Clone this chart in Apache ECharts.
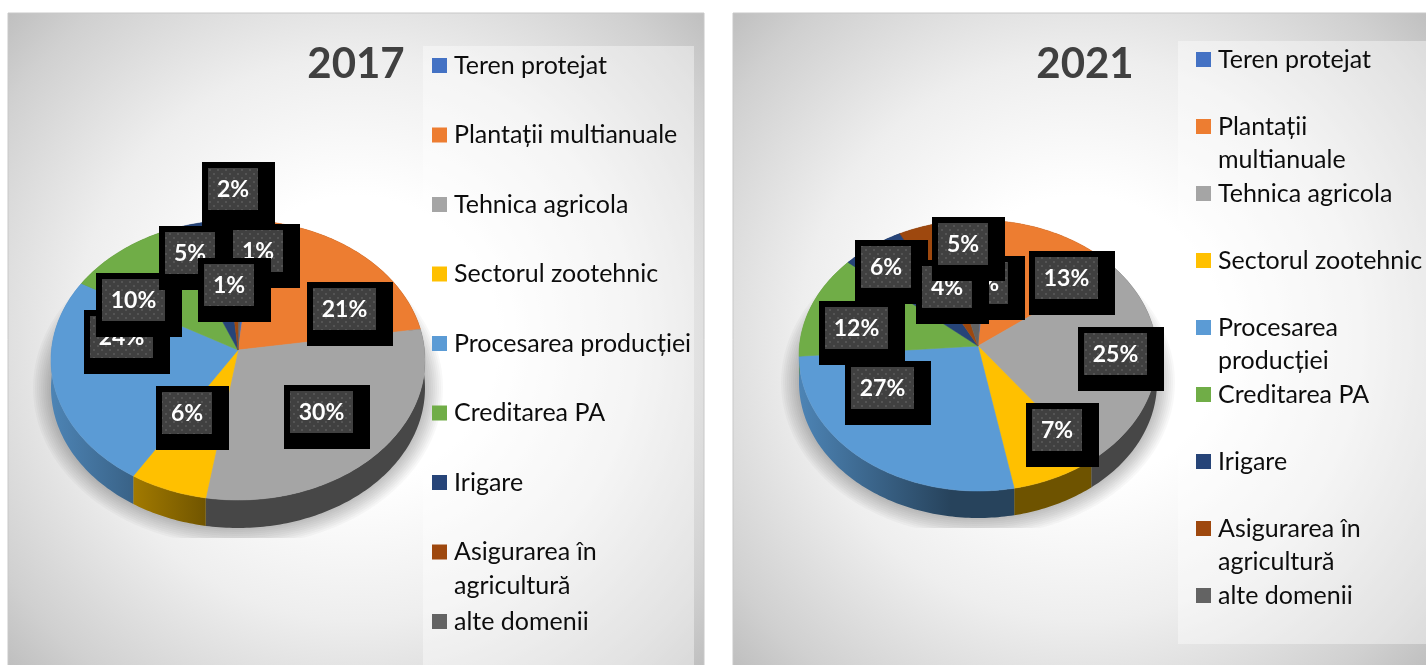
<!DOCTYPE html>
<html>
<head>
<meta charset="utf-8">
<style>html,body{margin:0;padding:0;background:#fff;overflow:hidden}#c{width:1426px;height:665px}</style>
<script src="https://cdn.jsdelivr.net/npm/echarts@6/dist/echarts.min.js"></script>
</head>
<body>
<div id="c"></div>
<script>
// ---- data ----
const categories = ['Teren protejat','Plantații multianuale','Tehnica agricola','Sectorul zootehnic','Procesarea producției','Creditarea PA','Irigare','Asigurarea în agricultură','alte domenii'];
const values2017 = [0.9,20.5,30.4,6.4,24.4,10.4,4.6,1.6,0.6];
const values2021 = [0.7,13.0,25.4,7.4,27.4,12.4,6.0,3.8,4.6];
const legendLines2017 = [['Teren protejat'],['Plantații multianuale'],['Tehnica agricola'],['Sectorul zootehnic'],['Procesarea producției'],['Creditarea PA'],['Irigare'],['Asigurarea în','agricultură'],['alte domenii']];
const legendLines2021 = [['Teren protejat'],['Plantații','multianuale'],['Tehnica agricola'],['Sectorul zootehnic'],['Procesarea','producției'],['Creditarea PA'],['Irigare'],['Asigurarea în','agricultură'],['alte domenii']];
const colors = ['#4472C4','#ED7D31','#A5A5A5','#FFC000','#5B9BD5','#70AD47','#264478','#9E480E','#636363'];

// ---- layout (separate from the data) ----
const panels = [
  {title:'2017', values:values2017, legend:legendLines2017,
   box:[8,13,696,680], bgCentre:[356,339], legendBox:[423,46,271,619],
   cx:238, cy:360, rx:187, ry:140, apexY:350, depth:28, titleX:356,
   markerX:432, textX:454, legendY:65.5, legendStep:69.5,
   labelAt:[[227,224],[307,282],[284,385],[156,386],[84,310],[96,273],[159,226],[202,162],[198,258]]},
  {title:'2021', values:values2021, legend:legendLines2021,
   box:[733,13,720,680], bgCentre:[1081,339], legendBox:[1178,41,248,603],
   cx:978, cy:355.5, rx:179, ry:135.5, apexY:346, depth:27, titleX:1085,
   markerX:1196, textX:1218, legendY:59.5, legendStep:67,
   labelAt:[[952,256],[1029,251],[1078,327],[1026,403],[845,361],[819,301],[855,240],[916,260],[932,217]]}
];
const FONT = 'Lato, "Open Sans", sans-serif';
const VIEW_WARP = 5.5; // degrees: the tilted view stretches the far left of the disc
const haloSteps = [18,16,14,12,10,8,6,4,2];

function shade(hex,f){
  const n=parseInt(hex.slice(1),16);
  const c=[(n>>16)&255,(n>>8)&255,n&255].map(v=>Math.round(v*f));
  return 'rgb('+c.join(',')+')';
}
function spans(values){
  const total=values.reduce((a,b)=>a+b,0); let cum=0;
  return values.map(v=>{const s=cum/total*360; cum+=v; return [s,cum/total*360];});
}
function rim(p,a,b,dy){
  const pts=[], n=Math.max(2,Math.ceil(b-a));
  for(let k=0;k<=n;k++){
    const d=a+(b-a)*k/n, r=d*Math.PI/180;
    const t=(d+VIEW_WARP*(1-Math.sin(r))/2)*Math.PI/180;
    pts.push([p.cx+p.rx*Math.sin(t), p.cy-p.ry*Math.cos(t)+dy]);
  }
  return pts;
}
const dots=document.createElement('canvas'); dots.width=dots.height=8;
(function(){const g=dots.getContext('2d');g.fillStyle='#404040';g.fillRect(0,0,8,8);g.fillStyle='#545454';g.fillRect(1,1,2,2);g.fillRect(5,5,2,2);})();

function rows(values){return values.map((v,i)=>[i,v]);}
const series=[];
panels.forEach(p=>{
  const sp=spans(p.values);
  // soft halo under the disc, cut flat just below it as in the picture
  series.push({type:'custom',coordinateSystem:'none',silent:true,z:2,data:haloSteps.map(e=>[e]),
    renderItem:(params,api)=>{
      const e=api.value(0), q=Object.assign({},p,{rx:p.rx+e,ry:p.ry+e});
      const floor=p.cy+p.ry+p.depth+10;
      const pts=rim(q,0,360,p.depth).map(([x,y])=>[x,Math.min(y,floor)]);
      return {type:'polygon',shape:{points:pts},style:{fill:'rgba(0,0,0,0.026)'}};
    }});
  // side walls
  series.push({type:'custom',coordinateSystem:'none',silent:true,z:3,data:rows(p.values),
    renderItem:(params,api)=>{
      const i=api.value(0),[a,b]=sp[i];
      const pts=rim(p,a,b,0).concat(rim(p,a,b,p.depth).reverse());
      const c=colors[i];
      return {type:'polygon',shape:{points:pts},style:{fill:{type:'linear',global:true,x:p.cx-p.rx,y:0,x2:p.cx+p.rx,y2:0,
        colorStops:[{offset:0,color:shade(c,0.85)},{offset:0.425,color:shade(c,0.43)},{offset:1,color:shade(c,0.43)}]}}};
    }});
  // top faces
  series.push({type:'custom',coordinateSystem:'none',silent:true,z:4,data:rows(p.values),
    renderItem:(params,api)=>{
      const i=api.value(0),[a,b]=sp[i];
      const pts=[[p.cx,p.apexY]].concat(rim(p,a,b,0));
      return {type:'polygon',shape:{points:pts},style:{fill:colors[i],stroke:colors[i],lineWidth:0.5}};
    }});
  // data labels: black box, dotted inner box, white percentage
  series.push({type:'custom',coordinateSystem:'none',silent:true,z:5,data:rows(p.values),
    renderItem:(params,api)=>{
      const i=api.value(0), pct=Math.round(api.value(1)), txt=pct+'%';
      const [x,y]=p.labelAt[i], wide=pct>=10;
      const ow=wide?86:73, iw=wide?63:50;
      return {type:'group',children:[
        {type:'rect',shape:{x:x,y:y,width:ow,height:64},style:{fill:'#000'}},
        {type:'rect',shape:{x:x+6,y:y+6,width:iw,height:42},style:{fill:{image:dots,repeat:'repeat'}}},
        {type:'text',style:{text:txt,x:x+6+iw/2,y:y+28,fill:'#fff',font:'bold 23px '+FONT,textAlign:'center',textVerticalAlign:'middle',align:'center',verticalAlign:'middle'}}
      ]};
    }});
  // legend
  series.push({type:'custom',coordinateSystem:'none',silent:true,z:6,data:rows(p.values),
    renderItem:(params,api)=>{
      const i=api.value(0), y=p.legendY+i*p.legendStep;
      const kids=[{type:'rect',shape:{x:p.markerX,y:y-7.5,width:15,height:15},style:{fill:colors[i]}}];
      p.legend[i].forEach((line,k)=>kids.push({type:'text',style:{text:line,x:p.textX,y:y+k*33.5,fill:'#0d0d0d',font:'25px '+FONT,textAlign:'left',textVerticalAlign:'middle',align:'left',verticalAlign:'middle'}}));
      return {type:'group',children:kids};
    }});
  // title
  series.push({type:'custom',coordinateSystem:'none',silent:true,z:6,data:[[0]],
    renderItem:()=>({type:'text',style:{text:p.title,x:p.titleX,y:64,fill:'#404040',font:'bold 42px '+FONT,textAlign:'center',textVerticalAlign:'middle',align:'center',verticalAlign:'middle'}})});
});

const graphicKids=[];
panels.forEach(p=>{
  const [x,y,w,h]=p.box, [mx,my]=p.bgCentre;
  graphicKids.push({type:'rect',shape:{x:x,y:y,width:w,height:h},
    style:{stroke:'#c8c8c8',lineWidth:1,fill:{type:'radial',global:true,x:mx,y:my,r:477,colorStops:[
      {offset:0,color:'#ffffff'},{offset:0.3,color:'#ffffff'},{offset:0.59,color:'#eeeeee'},{offset:0.88,color:'#d0d0d0'},{offset:1,color:'#bfbfbf'}]}}});
  const [lx,ly,lw,lh]=p.legendBox;
  graphicKids.push({type:'rect',shape:{x:lx,y:ly,width:lw,height:lh},style:{fill:'rgba(255,255,255,0.4)'}});
});

const chart=echarts.init(document.getElementById('c'),null,{renderer:'canvas',width:1426,height:665});
chart.setOption({animation:false,backgroundColor:'#fff',graphic:{elements:graphicKids},series:series});
</script>
</body>
</html>
